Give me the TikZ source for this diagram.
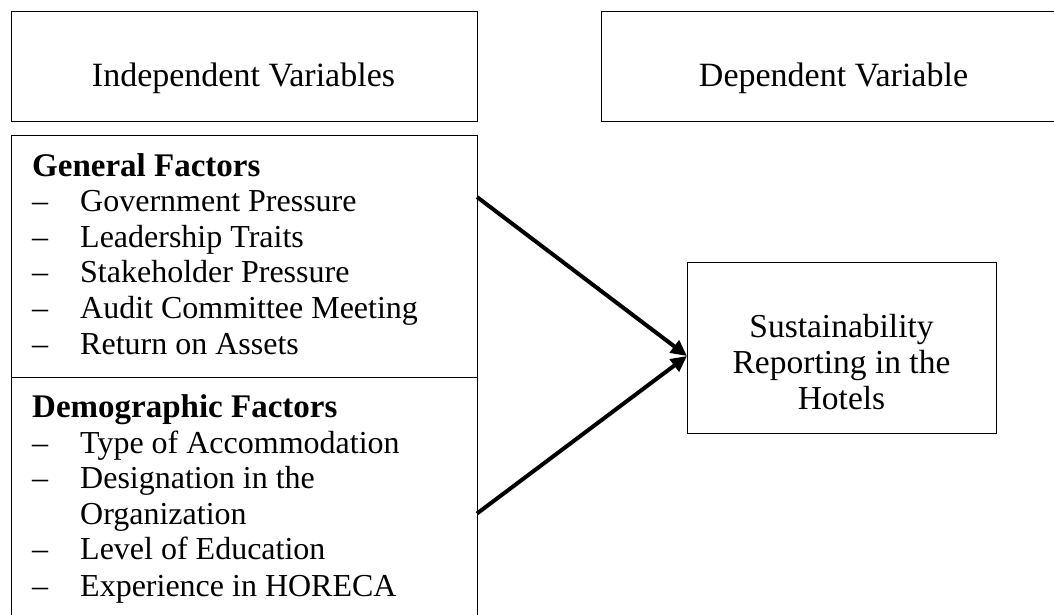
\documentclass[tikz,border=0pt]{standalone}
\usepackage{fontspec}
\setmainfont{Liberation Serif}
\usetikzlibrary{arrows.meta}
\begin{document}
\begin{tikzpicture}[x=1pt,y=-1pt,
  box/.style={draw, line width=0.9pt, inner sep=0pt, outer sep=0pt},
  txt/.style={font=\fontsize{32}{37}\selectfont, inner sep=0pt, anchor=base west},
  ctxt/.style={font=\fontsize{34}{40}\selectfont, inner sep=0pt, anchor=base},
  hd/.style={font=\fontsize{33}{38}\selectfont\bfseries, inner sep=0pt, anchor=base west},
  conn/.style={line width=4pt, -{Triangle[length=16pt,width=15pt]}}]
\useasboundingbox (0,0) rectangle (1054,614);
% header boxes
\node[box, minimum width=466pt, minimum height=110pt] (indep) at (244,66) {};
\node[ctxt] (indeptxt) at (243.5,86) {Independent Variables};
\node[box, minimum width=470pt, minimum height=110pt] (dep) at (836,66) {};
\node[ctxt] (deptxt) at (833.5,86) {Dependent Variable};
% general factors
\node[box, minimum width=466pt, minimum height=242pt] (general) at (244,256) {};
\node[hd] (ghd) at (32,176) {General Factors};
\foreach \t [count=\i] in {Government Pressure, Leadership Traits, Stakeholder Pressure, Audit Committee Meeting, Return on Assets}{
  \node[txt] (gd\i) at (32,{176+35.6*\i}) {–};
  \node[txt] (gi\i) at (80,{176+35.6*\i}) {\t};
}
% demographic factors
\node[box, minimum width=466pt, minimum height=273pt] (demo) at (244,513.5) {};
\node[hd] (dhd) at (32,417) {Demographic Factors};
\node[txt] (dd1) at (32,453) {–};
\node[txt] (di1) at (80,453) {Type of Accommodation};
\node[txt] (dd2) at (32,488) {–};
\node[txt] (di2) at (80,488) {Designation in the};
\node[txt] (di2b) at (80,524) {Organization};
\node[txt] (dd3) at (32,559) {–};
\node[txt] (di3) at (80,559) {Level of Education};
\node[txt] (dd4) at (32,596) {–};
\node[txt] (di4) at (80,596) {Experience in HORECA};
% dependent
\node[box, minimum width=309pt, minimum height=171pt] (sust) at (841.5,348) {};
\node[ctxt, font=\fontsize{33.5}{40}\selectfont] (s1) at (841.5,337) {Sustainability};
\node[ctxt, font=\fontsize{33.5}{40}\selectfont] (s2) at (841.5,373) {Reporting in the};
\node[ctxt, font=\fontsize{33.5}{40}\selectfont] (s3) at (841.5,409) {Hotels};
% connectors
\draw[conn] ([yshift=59pt]general.east) -- ([yshift=-8pt]sust.west);
\draw[conn] (demo.east) -- ([yshift=-8pt]sust.west);
\end{tikzpicture}
\end{document}
